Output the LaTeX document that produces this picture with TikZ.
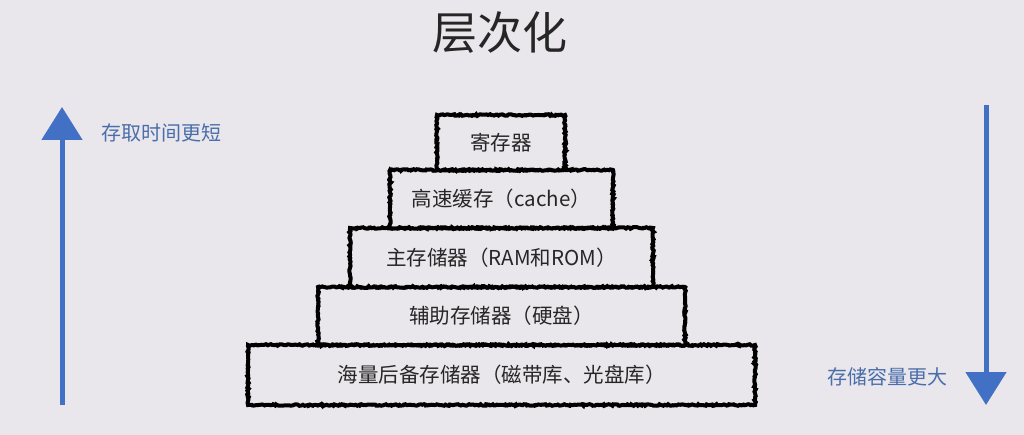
\documentclass[tikz,border=0pt]{standalone}
\usepackage{fontspec}
\setmainfont{Noto Sans CJK SC}
\usetikzlibrary{arrows.meta,decorations.pathmorphing}
\definecolor{bg}{RGB}{233,230,236}
\definecolor{arrowblue}{RGB}{66,112,196}
\definecolor{labelblue}{RGB}{74,110,170}
\tikzset{
  layer/.style={draw=black, line width=4pt, fill=bg, inner sep=0pt,
    font=\fontsize{20.5}{22}\selectfont, text=black!85,
    decoration={random steps,segment length=1.5pt,amplitude=0.8pt}, decorate},
  bluearrow/.style={draw=arrowblue, line width=5pt,
    -{Triangle[width=40pt,length=33pt]}},
  sidelabel/.style={font=\fontsize{20}{22}\selectfont, text=labelblue, inner sep=0pt},
}
\begin{document}
\begin{tikzpicture}[x=1pt,y=-1pt]
\fill[bg] (0,0) rectangle (1024,435);
\useasboundingbox (0,0) rectangle (1024,435);
\node[font=\fontsize{45}{48}\selectfont, text=black!85] (title) at (500,33) {层次化};
\node[layer, minimum width=507pt, minimum height=60pt] (l5) at (501.5,375) {海量后备存储器（磁带库、光盘库）};
\node[layer, minimum width=367pt, minimum height=58pt] (l4) at (501.5,316) {辅助存储器（硬盘）};
\node[layer, minimum width=303pt, minimum height=59pt] (l3) at (501.5,257.5) {主存储器（RAM和ROM）};
\node[layer, minimum width=223pt, minimum height=58pt] (l2) at (501.5,199) {高速缓存（cache）};
\node[layer, minimum width=128pt, minimum height=55pt] (l1) at (501,142.5) {寄存器};
\coordinate (lb) at (62,405);
\coordinate (lt) at (62,107);
\draw[bluearrow] (lb) -- (lt);
\node[sidelabel, anchor=west] (ltext) at (101,133) {存取时间更短};
\coordinate (rt) at (986,105);
\coordinate (rb) at (986,405);
\draw[bluearrow] (rt) -- (rb);
\node[sidelabel, anchor=east] (rtext) at (948,377) {存储容量更大};
\end{tikzpicture}
\end{document}
